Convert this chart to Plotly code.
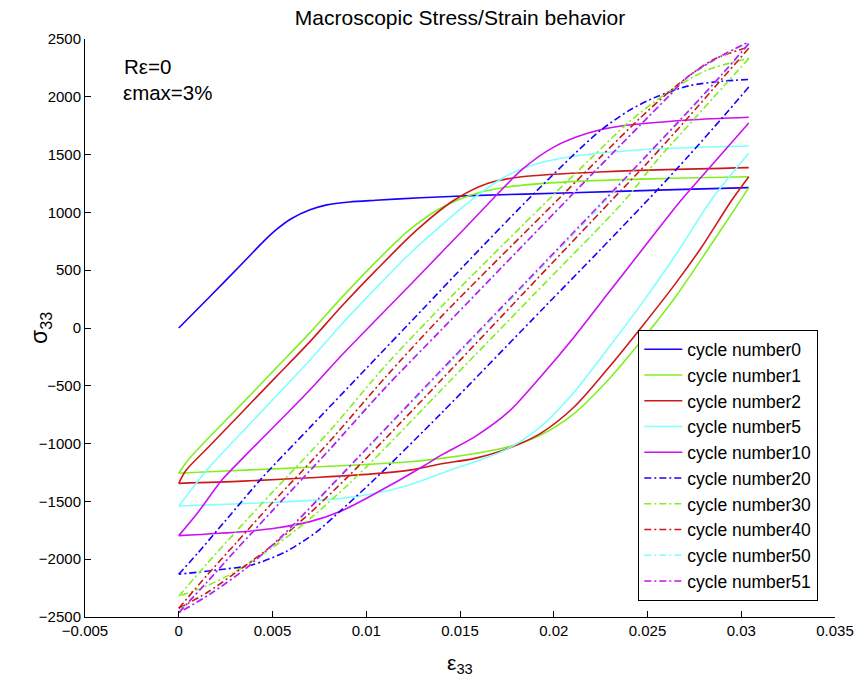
import plotly.graph_objects as go

# ---------------- data ----------------
c0_eps = [0, 0.0016, 0.0034, 0.0045, 0.0052, 0.006, 0.007, 0.0079, 0.0091, 0.0105, 0.0129, 0.0156, 0.021, 0.026, 0.0304]
c0_sig = [0, 262, 560, 745, 850, 945, 1022, 1065, 1090, 1105, 1127, 1145, 1170, 1195, 1214]

c1_dn_eps = [0.0304, 0.0300, 0.0282, 0.0265, 0.0247, 0.0229, 0.0211, 0.0193, 0.0176, 0.0158, 0.014, 0.0123, 0.007, 0.0016, 0]
c1_dn_sig = [1214, 1115, 675, 271, -104, -450, -738, -926, -1027, -1085, -1128, -1157, -1205, -1243, -1257]
c1_up_eps = [0, 0.0005, 0.0016, 0.0034, 0.0052, 0.007, 0.0087, 0.0105, 0.0123, 0.0138, 0.0156, 0.0174, 0.0209, 0.0263, 0.0304]
c1_up_sig = [-1257, -1142, -950, -650, -345, -40, 265, 570, 848, 1021, 1150, 1217, 1266, 1295, 1309]

c2_dn_eps = [0.0304, 0.0295, 0.0279, 0.0265, 0.0247, 0.0229, 0.0211, 0.0193, 0.0176, 0.0158, 0.014, 0.0125, 0.0105, 0.007, 0.0034, 0]
c2_dn_sig = [1309, 1107, 703, 386, 11, -349, -681, -911, -1041, -1128, -1175, -1225, -1260, -1295, -1325, -1344]
c2_up_eps = [0, 0.0004, 0.0016, 0.0034, 0.0052, 0.007, 0.0087, 0.0105, 0.0127, 0.0147, 0.0165, 0.0183, 0.0227, 0.0304]
c2_up_sig = [-1344, -1229, -1027, -724, -421, -118, 190, 496, 848, 1107, 1252, 1309, 1352, 1387]

c5_dn_eps = [0.0304, 0.0284, 0.0265, 0.0247, 0.0229, 0.0211, 0.0193, 0.0176, 0.0158, 0.0145, 0.0123, 0.0105, 0.0087, 0.0052, 0.0025, 0]
c5_dn_sig = [1511, 1107, 631, 213, -176, -551, -854, -1041, -1157, -1229, -1358, -1430, -1474, -1508, -1525, -1540]
c5_up_eps = [0, 0.001, 0.0016, 0.0034, 0.0052, 0.007, 0.0087, 0.0105, 0.0123, 0.0137, 0.0156, 0.0174, 0.0192, 0.0209, 0.0245, 0.0304]
c5_up_sig = [-1540, -1330, -1210, -897, -588, -277, 35, 343, 640, 845, 1107, 1309, 1425, 1482, 1540, 1574]

c10_dn_eps = [0.0304, 0.0282, 0.0268, 0.0247, 0.0229, 0.0211, 0.0193, 0.0176, 0.0158, 0.014, 0.013, 0.0105, 0.0087, 0.007, 0.0052, 0.0034, 0]
c10_dn_sig = [1773, 1367, 1107, 675, 300, -75, -421, -724, -940, -1100, -1200, -1430, -1580, -1675, -1730, -1762, -1796]
c10_up_eps = [0, 0.001, 0.0023, 0.0034, 0.0052, 0.007, 0.0087, 0.0105, 0.0123, 0.0141, 0.0153, 0.0168, 0.0183, 0.02, 0.0218, 0.0236, 0.0272, 0.0304]
c10_up_sig = [-1796, -1600, -1315, -1128, -833, -534, -234, 67, 366, 668, 870, 1125, 1370, 1565, 1684, 1747, 1799, 1823]

c20_dn_eps = [0.0304, 0.029, 0.0272, 0.0255, 0.0225, 0.0195, 0.014, 0.0105, 0.0085, 0.0073, 0.0057, 0.0039, 0.002, 0]
c20_dn_sig = [2085, 1820, 1490, 1190, 680, 180, -738, -1300, -1600, -1770, -1935, -2050, -2094, -2130]
c20_up_eps = [0, 0.001, 0.0025, 0.0045, 0.007, 0.01, 0.013, 0.0155, 0.0186, 0.0212, 0.0225, 0.024, 0.0254, 0.0272, 0.029, 0.0304]
c20_up_sig = [-2130, -1950, -1665, -1286, -860, -350, 160, 588, 1107, 1520, 1710, 1880, 1995, 2095, 2135, 2150]

c30_dn_eps = [0.0304, 0.029, 0.027, 0.0255, 0.0238, 0.019, 0.014, 0.011, 0.009, 0.007, 0.005, 0.003, 0.0015, 0]
c30_dn_sig = [2330, 2080, 1720, 1450, 1107, 300, -536, -1040, -1360, -1650, -1900, -2110, -2230, -2320]
c30_up_eps = [0, 0.0015, 0.003, 0.005, 0.008, 0.011, 0.014, 0.0197, 0.022, 0.024, 0.026, 0.0282, 0.0304]
c30_up_sig = [-2320, -2040, -1770, -1420, -900, -330, 184, 1107, 1470, 1780, 2030, 2232, 2333]

c40_dn_eps = [0.0304, 0.029, 0.027, 0.025, 0.0231, 0.0185, 0.014, 0.011, 0.009, 0.007, 0.005, 0.003, 0.0015, 0]
c40_dn_sig = [2420, 2160, 1790, 1430, 1107, 320, -450, -960, -1290, -1600, -1880, -2120, -2290, -2425]
c40_up_eps = [0, 0.0015, 0.003, 0.005, 0.008, 0.011, 0.014, 0.0202, 0.0225, 0.0245, 0.0265, 0.0285, 0.0304]
c40_up_sig = [-2425, -2140, -1870, -1510, -990, -430, 98, 1107, 1480, 1800, 2090, 2320, 2430]

c50_dn_eps = [0.0304, 0.029, 0.0272, 0.025, 0.0228, 0.0185, 0.014, 0.0115, 0.0095, 0.0075, 0.0055, 0.0035, 0.0016, 0]
c50_dn_sig = [2455, 2190, 1870, 1495, 1107, 380, -380, -800, -1140, -1480, -1810, -2090, -2300, -2455]
c50_up_eps = [0, 0.0015, 0.003, 0.005, 0.008, 0.011, 0.014, 0.0207, 0.023, 0.025, 0.0261, 0.0272, 0.029, 0.0304]
c50_up_sig = [-2455, -2195, -1925, -1575, -1055, -515, -12, 1107, 1485, 1815, 1995, 2175, 2355, 2470]

c51_dn_eps = [0.0304, 0.029, 0.0272, 0.025, 0.0227, 0.0185, 0.014, 0.0115, 0.0095, 0.0075, 0.0055, 0.0035, 0.0016, 0]
c51_dn_sig = [2460, 2200, 1880, 1500, 1107, 395, -364, -790, -1130, -1470, -1800, -2090, -2310, -2463]
c51_up_eps = [0, 0.0015, 0.003, 0.005, 0.008, 0.011, 0.014, 0.0207, 0.023, 0.025, 0.0261, 0.0272, 0.029, 0.0304]
c51_up_sig = [-2463, -2200, -1930, -1580, -1060, -520, -17, 1107, 1490, 1820, 2000, 2180, 2360, 2475]

cycle_names = ["cycle number0", "cycle number1", "cycle number2", "cycle number5", "cycle number10",
               "cycle number20", "cycle number30", "cycle number40", "cycle number50", "cycle number51"]

x_tickvals = [-0.005, 0, 0.005, 0.01, 0.015, 0.02, 0.025, 0.03, 0.035]
x_ticktext = ["\u22120.005", "0", "0.005", "0.01", "0.015", "0.02", "0.025", "0.03", "0.035"]
y_tickvals = [-2500, -2000, -1500, -1000, -500, 0, 500, 1000, 1500, 2000, 2500]
y_ticktext = ["\u22122500", "\u22122000", "\u22121500", "\u22121000", "\u2212500", "0", "500", "1000", "1500", "2000", "2500"]

# ---------------- styles ----------------
BLUE = "#1a00ff"
GREEN = "#80f020"
RED = "#cc1a1a"
CYAN = "#80ffff"
MAGENTA = "#cc10f0"
DASHDOT = "7px,3px,2px,3px"
FONT = "Liberation Sans, Arial, Helvetica, sans-serif"

fig = go.Figure()

branches = [
    (cycle_names[0], BLUE, "solid", [(c0_eps, c0_sig)]),
    (cycle_names[1], GREEN, "solid", [(c1_dn_eps, c1_dn_sig), (c1_up_eps, c1_up_sig)]),
    (cycle_names[2], RED, "solid", [(c2_dn_eps, c2_dn_sig), (c2_up_eps, c2_up_sig)]),
    (cycle_names[3], CYAN, "solid", [(c5_dn_eps, c5_dn_sig), (c5_up_eps, c5_up_sig)]),
    (cycle_names[4], MAGENTA, "solid", [(c10_dn_eps, c10_dn_sig), (c10_up_eps, c10_up_sig)]),
    (cycle_names[5], BLUE, DASHDOT, [(c20_dn_eps, c20_dn_sig), (c20_up_eps, c20_up_sig)]),
    (cycle_names[6], GREEN, DASHDOT, [(c30_dn_eps, c30_dn_sig), (c30_up_eps, c30_up_sig)]),
    (cycle_names[7], RED, DASHDOT, [(c40_dn_eps, c40_dn_sig), (c40_up_eps, c40_up_sig)]),
    (cycle_names[8], CYAN, DASHDOT, [(c50_dn_eps, c50_dn_sig), (c50_up_eps, c50_up_sig)]),
    (cycle_names[9], MAGENTA, DASHDOT, [(c51_dn_eps, c51_dn_sig), (c51_up_eps, c51_up_sig)]),
]

for name, color, dash, parts in branches:
    for i, (ex, sy) in enumerate(parts):
        fig.add_trace(go.Scatter(
            x=ex, y=sy, mode="lines", name=name, legendgroup=name,
            showlegend=(i == 0),
            line=dict(color=color, width=1.6, dash=dash, shape="spline", smoothing=0.8),
            hoverinfo="skip",
        ))

axis_common = dict(
    showgrid=False, zeroline=False, showline=True, linecolor="black", linewidth=1,
    ticks="inside", ticklen=6, tickcolor="black", tickwidth=1, automargin=False,
    tickfont=dict(family=FONT, size=15, color="black"), mirror=False,
)

fig.update_layout(
    width=857, height=685,
    margin=dict(l=85, r=22, t=39, b=68),
    paper_bgcolor="white", plot_bgcolor="white",
    font=dict(family=FONT, color="black"),
    title=dict(text="Macroscopic Stress/Strain behavior", x=0.5, xref="paper", xanchor="center",
               y=1 - 18 / 685, yref="container", yanchor="middle",
               font=dict(family=FONT, size=21, color="black")),
    xaxis=dict(range=[-0.005, 0.035], tickvals=x_tickvals, ticktext=x_ticktext, **axis_common),
    yaxis=dict(range=[-2500, 2500], tickvals=y_tickvals, ticktext=y_ticktext, **axis_common),
    showlegend=True,
    legend=dict(x=(818 - 85) / 750, y=(617 - 601) / 578, xanchor="right", yanchor="bottom",
                bordercolor="black", borderwidth=1.3, bgcolor="white",
                font=dict(family=FONT, size=17.5, color="black"),
                tracegroupgap=0, itemwidth=38),
    annotations=[
        dict(x=-0.00302, y=2260, xref="x", yref="y", text="R\u03b5=0", showarrow=False,
             xanchor="left", yanchor="middle", font=dict(family=FONT, size=20.5, color="black")),
        dict(x=-0.00307, y=2040, xref="x", yref="y", text="\u03b5max=3%", showarrow=False,
             xanchor="left", yanchor="middle", font=dict(family=FONT, size=20.5, color="black")),
        dict(x=(40 - 85) / 750, y=0.5, xref="paper", yref="paper", text="\u03c3<sub>33</sub>",
             showarrow=False, textangle=-90, xanchor="center", yanchor="middle",
             font=dict(family=FONT, size=23, color="black")),
        dict(x=0.5, y=-(664 - 617) / 578, xref="paper", yref="paper", text="\u03b5<sub>33</sub>",
             showarrow=False, xanchor="center", yanchor="middle",
             font=dict(family=FONT, size=21, color="black")),
    ],
)

fig.write_html("out.html")
